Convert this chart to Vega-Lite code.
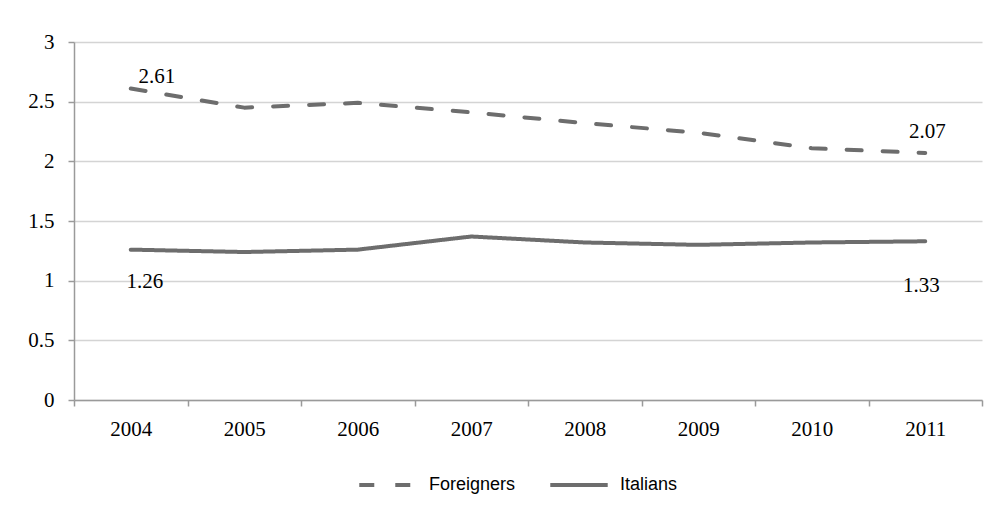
{
  "$schema": "https://vega.github.io/schema/vega-lite/v6.json",
  "autosize": {"type": "none"},
  "width": 908,
  "height": 358,
  "padding": {"left": 74, "top": 42, "right": 19, "bottom": 115},
  "background": "white",
  "config": {
    "view": {"stroke": null},
    "font": "Liberation Serif",
    "axis": {"labelFont": "Liberation Serif", "labelFontSize": 21, "labelColor": "#000000"}
  },
  "datasets": {
    "series": [
      {"year": "2004", "group": "Foreigners", "value": 2.61},
      {"year": "2005", "group": "Foreigners", "value": 2.45},
      {"year": "2006", "group": "Foreigners", "value": 2.49},
      {"year": "2007", "group": "Foreigners", "value": 2.41},
      {"year": "2008", "group": "Foreigners", "value": 2.32},
      {"year": "2009", "group": "Foreigners", "value": 2.24},
      {"year": "2010", "group": "Foreigners", "value": 2.11},
      {"year": "2011", "group": "Foreigners", "value": 2.07},
      {"year": "2004", "group": "Italians", "value": 1.26},
      {"year": "2005", "group": "Italians", "value": 1.24},
      {"year": "2006", "group": "Italians", "value": 1.26},
      {"year": "2007", "group": "Italians", "value": 1.37},
      {"year": "2008", "group": "Italians", "value": 1.32},
      {"year": "2009", "group": "Italians", "value": 1.30},
      {"year": "2010", "group": "Italians", "value": 1.32},
      {"year": "2011", "group": "Italians", "value": 1.33}
    ]
  },
  "data": {"name": "series"},
  "encoding": {
    "x": {
      "field": "year", "type": "ordinal", "bandPosition": 0.5,
      "scale": {"type": "band", "paddingInner": 0, "paddingOuter": 0},
      "axis": {
        "title": null, "labelAngle": 0, "tickBand": "extent",
        "domainColor": "#9a9a9a", "domainWidth": 1.5,
        "tickColor": "#9a9a9a", "tickWidth": 1.5, "tickSize": 6,
        "labelFont": "Liberation Serif", "labelFontSize": 21, "labelColor": "#000000",
        "labelPadding": 12, "grid": false
      }
    },
    "y": {
      "field": "value", "type": "quantitative",
      "scale": {"domain": [0, 3], "nice": false},
      "axis": {
        "title": null, "values": [0, 0.5, 1, 1.5, 2, 2.5, 3], "format": "~g",
        "domainColor": "#9a9a9a", "domainWidth": 1.5,
        "tickColor": "#9a9a9a", "tickWidth": 1.5, "tickSize": 6,
        "labelFont": "Liberation Serif", "labelFontSize": 21, "labelColor": "#000000",
        "labelPadding": 14,
        "grid": true, "gridColor": "#d4d4d4", "gridWidth": 1.5
      }
    }
  },
  "layer": [
    {
      "mark": {"type": "line", "strokeWidth": 4, "strokeCap": "round", "strokeJoin": "round", "color": "#6d6d6d"},
      "encoding": {
        "strokeDash": {
          "field": "group", "type": "nominal",
          "scale": {"domain": ["Foreigners", "Italians"], "range": [[15, 21], [1, 0]]},
          "legend": {
            "title": null, "orient": "none", "direction": "horizontal",
            "legendX": 283, "legendY": 412,
            "symbolType": "stroke", "symbolSize": 3300, "symbolStrokeWidth": 4,
            "symbolStrokeColor": "#6d6d6d",
            "labelFont": "Liberation Sans", "labelFontSize": 18, "labelColor": "#000000",
            "labelOffset": 10, "columnPadding": 26
          }
        }
      }
    },
    {
      "transform": [{"filter": "datum.group === 'Foreigners' && datum.year === '2004'"}],
      "mark": {"type": "text", "font": "Liberation Serif", "fontSize": 21, "color": "#000000", "align": "center", "baseline": "alphabetic", "dx": 26, "dy": -6},
      "encoding": {"text": {"field": "value", "type": "quantitative", "format": ".2f"}}
    },
    {
      "transform": [{"filter": "datum.group === 'Foreigners' && datum.year === '2011'"}],
      "mark": {"type": "text", "font": "Liberation Serif", "fontSize": 21, "color": "#000000", "align": "center", "baseline": "alphabetic", "dx": 2, "dy": -15},
      "encoding": {"text": {"field": "value", "type": "quantitative", "format": ".2f"}}
    },
    {
      "transform": [{"filter": "datum.group === 'Italians' && datum.year === '2004'"}],
      "mark": {"type": "text", "font": "Liberation Serif", "fontSize": 21, "color": "#000000", "align": "center", "baseline": "alphabetic", "dx": 14, "dy": 38},
      "encoding": {"text": {"field": "value", "type": "quantitative", "format": ".2f"}}
    },
    {
      "transform": [{"filter": "datum.group === 'Italians' && datum.year === '2011'"}],
      "mark": {"type": "text", "font": "Liberation Serif", "fontSize": 21, "color": "#000000", "align": "center", "baseline": "alphabetic", "dx": -4, "dy": 51},
      "encoding": {"text": {"field": "value", "type": "quantitative", "format": ".2f"}}
    }
  ]
}
